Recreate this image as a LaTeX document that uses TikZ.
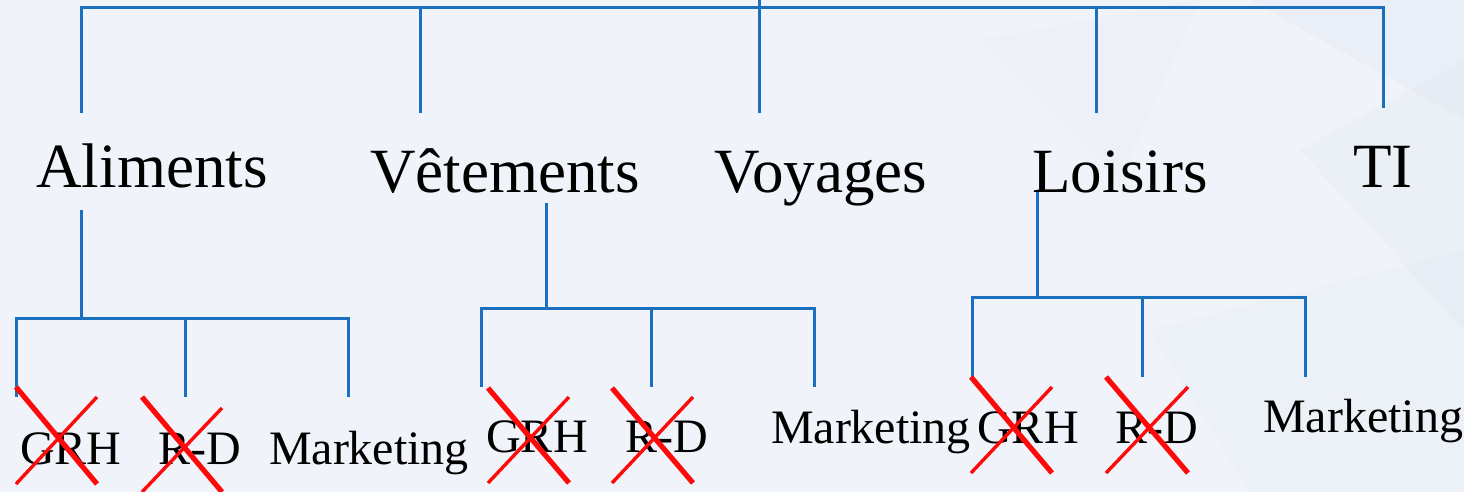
\documentclass[tikz,border=0pt]{standalone}
\usepackage{fontspec}
\setmainfont{Liberation Serif}
\definecolor{bg}{HTML}{F0F3F9}
\definecolor{bgdark}{HTML}{E4EAF3}
\definecolor{linkblue}{HTML}{1B6FBF}
\definecolor{xred}{HTML}{FF0A0A}
\begin{document}
\begin{tikzpicture}[x=0.5pt,y=-0.5pt,
  link/.style={draw=linkblue,line width=1.5pt},
  xthick/.style={draw=xred,line width=2.6pt},
  xthin/.style={draw=xred,line width=1.7pt},
  toplabel/.style={anchor=base,inner sep=0pt,font=\fontsize{31.5}{36}\selectfont},
  sublabel/.style={anchor=base,inner sep=0pt,font=\fontsize{24}{28}\selectfont}]
% background
\fill[bg] (0,0) rectangle (1464,492);
\fill[bgdark,opacity=0.45] (1250,0) -- (1464,0) -- (1464,120) -- cycle;
\fill[bgdark,opacity=0.35] (1300,150) -- (1464,60) -- (1464,330) -- cycle;
\fill[bgdark,opacity=0.3] (1150,330) -- (1464,250) -- (1464,492) -- (1250,492) -- cycle;
\fill[bgdark,opacity=0.2] (980,40) -- (1200,0) -- (1120,180) -- cycle;
\useasboundingbox (0,0) rectangle (1464,492);

% top-level labels
\node[toplabel] (alim) at (152,188) {Aliments};
\node[toplabel] (vet)  at (505,192) {Vêtements};
\node[toplabel] (voy)  at (821,192) {Voyages};
\node[toplabel] (lois) at (1120,192) {Loisirs};
\node[toplabel] (ti)   at (1383,188) {TI};

% second-level labels
\node[sublabel] (grhA) at (71,464) {GRH};
\node[sublabel] (rdA)  at (200,464) {R-D};
\node[sublabel] (mkA)  at (369,464) {Marketing};
\node[sublabel] (grhV) at (537,452) {GRH};
\node[sublabel] (rdV)  at (667,452) {R-D};
\node[sublabel] (mkV)  at (871,443) {Marketing};
\node[sublabel] (grhL) at (1028,443) {GRH};
\node[sublabel] (rdL)  at (1157,443) {R-D};
\node[sublabel] (mkL)  at (1363,432) {Marketing};

% top tree
\coordinate (root) at (759,0);
\coordinate (rootB) at (759,8);
\coordinate (aT) at (81,8);    \coordinate (aE) at (81,113);
\coordinate (vT) at (420,8);   \coordinate (vE) at (420,113);
\coordinate (yE) at (759,113);
\coordinate (lT) at (1096,8);  \coordinate (lE) at (1096,113);
\coordinate (tT) at (1383,8);  \coordinate (tE) at (1383,108);
\draw[link] (root) -- (rootB);
\draw[link] (aE) -- (aT) -- (tT) -- (tE);
\draw[link] (vT) -- (vE);
\draw[link] (rootB) -- (yE);
\draw[link] (lT) -- (lE);

% Aliments subtree
\coordinate (a0) at (81,210);  \coordinate (a1) at (81,318);
\coordinate (a2) at (16,318);  \coordinate (a3) at (348,318);
\coordinate (a4) at (185,318);
\draw[link] (a0) -- (a1);
\draw[link] (16,397) -- (a2) -- (a3) -- (348,397);
\draw[link] (a4) -- (185,397);

% Vetements subtree
\coordinate (v0) at (546,203); \coordinate (v1) at (546,309);
\coordinate (v2) at (481,309); \coordinate (v3) at (814,309);
\coordinate (v4) at (651,309);
\draw[link] (v0) -- (v1);
\draw[link] (481,387) -- (v2) -- (v3) -- (814,387);
\draw[link] (v4) -- (651,387);

% Loisirs subtree
\coordinate (l0) at (1037,192); \coordinate (l1) at (1037,298);
\coordinate (l2) at (972,298);  \coordinate (l3) at (1305,298);
\coordinate (l4) at (1142,298);
\draw[link] (l0) -- (l1);
\draw[link] (972,377) -- (l2) -- (l3) -- (1305,377);
\draw[link] (l4) -- (1142,377);

% red crosses
\draw[xthick] (16,387) -- (97,484);  \draw[xthin] (97,397) -- (16,484);
\draw[xthick] (142,397) -- (222,492); \draw[xthin] (222,408) -- (142,492);
\draw[xthick] (488,388) -- (569,483); \draw[xthin] (569,397) -- (488,483);
\draw[xthick] (612,388) -- (693,483); \draw[xthin] (693,397) -- (612,483);
\draw[xthick] (971,377) -- (1052,473); \draw[xthin] (1052,387) -- (971,473);
\draw[xthick] (1106,377) -- (1188,473); \draw[xthin] (1188,387) -- (1106,473);
\end{tikzpicture}
\end{document}
